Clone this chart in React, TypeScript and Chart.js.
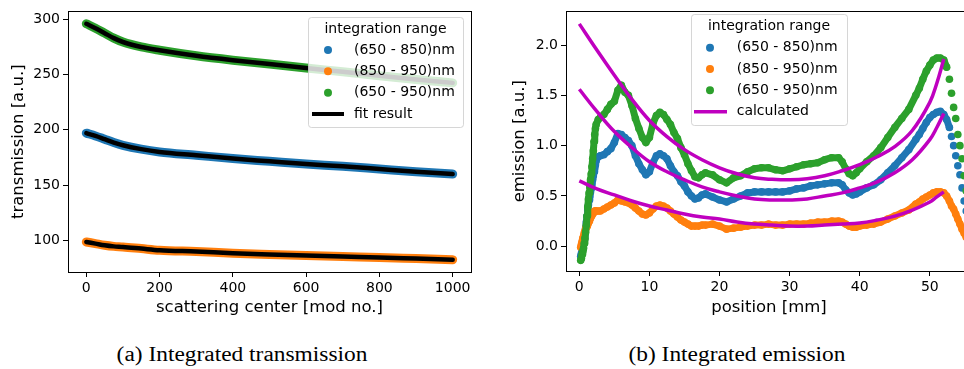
import React, { useEffect, useRef } from 'react';
import { Chart, registerables } from 'chart.js';

Chart.register(...registerables);

// ---------- (a) Integrated transmission ----------
const scatterCenter = [0, 25, 50, 75, 100, 150, 200, 300, 400, 500, 600, 700, 800, 900, 1000];
const trans650_850 = [197, 194.5, 191.5, 188.5, 186, 182.5, 180, 177, 174, 171.5, 169, 167, 164.5, 162, 160];
const trans850_950 = [98.5, 97, 95.5, 94.5, 94, 92.5, 91, 89.8, 88.3, 87.2, 86.2, 85.3, 84.5, 83.5, 82.5];
const trans650_950 = [296, 292, 287.5, 283, 279.5, 275, 272, 267, 263, 259.5, 256, 252.5, 249, 245.5, 242.5];
const fit650_850 = [197, 194.5, 191.5, 188.5, 186, 182.5, 180, 177, 174, 171.5, 169, 167, 164.5, 162, 160];
const fit850_950 = [98.5, 97, 95.5, 94.5, 94, 92.5, 91, 89.8, 88.3, 87.2, 86.2, 85.3, 84.5, 83.5, 82.5];
const fit650_950 = [296, 292, 287.5, 283, 279.5, 275, 272, 267, 263, 259.5, 256, 252.5, 249, 245.5, 242.5];
const transYTicks = [100, 150, 200, 250, 300];
const transXTicks = [0, 200, 400, 600, 800, 1000];

// ---------- (b) Integrated emission ----------
const position = [
  0.2, 0.3, 0.4, 0.5, 0.6, 0.7, 0.8, 0.9, 1.0, 1.1,
  1.2, 1.3, 1.4, 1.5, 1.6, 1.7, 1.8, 1.9, 2.0, 2.1,
  2.2, 2.3, 2.4,
  2.7, 3.0, 3.5, 4.0, 4.5, 5.0, 5.5, 6.0, 6.5, 7.0,
  7.5, 8.0, 8.5, 9.0, 9.5, 10.0, 10.5, 11.0, 11.5, 12.0,
  12.5, 13.0, 13.5, 14.0, 14.5, 15.0, 15.5, 16.0, 16.5, 17.0,
  17.5, 18, 19, 20, 21, 22, 23, 24, 25, 26,
  27, 28, 29, 30, 31, 32, 33, 34, 35, 36,
  37, 37.5, 38, 38.5, 39, 39.5, 40, 41, 42, 43,
  44, 45, 46, 47, 48, 48.5, 49, 49.5, 50, 50.5,
  51, 51.5, 52, 52.4, 52.8, 53.1, 53.4, 53.7, 54.0, 54.3,
  54.6, 54.9, 55.2,
];
const em650_850 = [
  -0.10, -0.07, -0.04, -0.01, 0.02, 0.07, 0.12, 0.18, 0.24, 0.30,
  0.36, 0.41, 0.46, 0.50, 0.54, 0.58, 0.62, 0.66, 0.70, 0.74,
  0.78, 0.81, 0.85,
  0.89, 0.90, 0.91, 0.94, 0.97, 1.03, 1.12, 1.11, 1.08, 1.05,
  1.00, 0.90, 0.82, 0.76, 0.71, 0.74, 0.83, 0.90, 0.92, 0.90,
  0.87, 0.80, 0.74, 0.70, 0.64, 0.60, 0.54, 0.50, 0.47, 0.48,
  0.51, 0.52, 0.49, 0.46, 0.44, 0.47, 0.50, 0.53, 0.54, 0.54,
  0.54, 0.54, 0.54, 0.55, 0.57, 0.58, 0.60, 0.61, 0.62, 0.63,
  0.63, 0.61, 0.56, 0.53, 0.51, 0.52, 0.54, 0.58, 0.61, 0.66,
  0.73, 0.80, 0.88, 0.96, 1.06, 1.11, 1.17, 1.23, 1.28, 1.31,
  1.33, 1.34, 1.31, 1.26, 1.18, 1.09, 1.00, 0.90, 0.80, 0.71,
  0.58, 0.45, 0.35,
];
const em850_950 = [
  -0.01, 0.02, 0.05, 0.08, 0.10, 0.13, 0.15, 0.17, 0.19, 0.20,
  0.22, 0.23, 0.25, 0.27, 0.28, 0.30, 0.31, 0.32, 0.33, 0.34,
  0.35, 0.35, 0.35,
  0.35, 0.35, 0.37, 0.39, 0.41, 0.43, 0.46, 0.45, 0.44, 0.43,
  0.41, 0.38, 0.35, 0.32, 0.31, 0.33, 0.37, 0.40, 0.41, 0.40,
  0.38, 0.35, 0.32, 0.29, 0.26, 0.24, 0.22, 0.20, 0.20, 0.20,
  0.21, 0.21, 0.22, 0.20, 0.17, 0.18, 0.19, 0.20, 0.21, 0.21,
  0.22, 0.21, 0.21, 0.22, 0.22, 0.22, 0.23, 0.24, 0.24, 0.25,
  0.25, 0.24, 0.22, 0.20, 0.19, 0.19, 0.20, 0.21, 0.22, 0.24,
  0.27, 0.30, 0.33, 0.36, 0.42, 0.44, 0.47, 0.49, 0.51, 0.53,
  0.54, 0.54, 0.53, 0.50, 0.45, 0.40, 0.37, 0.32, 0.27, 0.22,
  0.17, 0.13, 0.09,
];
const em650_950 = [
  -0.14, -0.12, -0.08, -0.05, -0.02, 0.03, 0.08, 0.14, 0.21, 0.30,
  0.39, 0.47, 0.53, 0.59, 0.66, 0.72, 0.79, 0.87, 0.95, 1.04,
  1.11, 1.17, 1.21,
  1.26, 1.28, 1.31, 1.36, 1.41, 1.44, 1.55, 1.60, 1.53, 1.50,
  1.40, 1.27, 1.17, 1.08, 1.03, 1.08, 1.22, 1.30, 1.33, 1.31,
  1.26, 1.21, 1.13, 1.07, 0.98, 0.91, 0.82, 0.75, 0.69, 0.68,
  0.71, 0.73, 0.71, 0.66, 0.63, 0.68, 0.70, 0.74, 0.77, 0.78,
  0.78, 0.76, 0.75, 0.77, 0.79, 0.81, 0.82, 0.83, 0.86, 0.88,
  0.88, 0.84, 0.77, 0.72, 0.70, 0.73, 0.77, 0.84, 0.90, 0.98,
  1.08, 1.18, 1.27, 1.36, 1.50, 1.57, 1.66, 1.74, 1.80, 1.85,
  1.87, 1.87, 1.85, 1.78, 1.66, 1.52, 1.38, 1.27, 1.11, 1.00,
  0.87, 0.70, 0.55,
];
const calcPos = [0, 2.5, 5, 7.5, 10, 12.5, 15, 17.5, 20, 22.5, 25, 27.5, 30, 32.5, 35, 37.5, 40, 42.5, 45, 47.5, 50, 51, 52];
const calc650_950 = [2.21, 1.95, 1.70, 1.46, 1.25, 1.09, 0.96, 0.86, 0.78, 0.72, 0.68, 0.665, 0.66, 0.67, 0.70, 0.75, 0.81, 0.89, 0.99, 1.15, 1.43, 1.62, 1.86];
const calc650_850 = [1.56, 1.34, 1.14, 0.98, 0.84, 0.74, 0.66, 0.59, 0.54, 0.50, 0.47, 0.46, 0.46, 0.47, 0.50, 0.53, 0.58, 0.64, 0.73, 0.86, 1.06, 1.18, 1.32];
const calc850_950 = [0.65, 0.57, 0.51, 0.45, 0.40, 0.36, 0.32, 0.29, 0.27, 0.24, 0.22, 0.21, 0.20, 0.20, 0.21, 0.22, 0.23, 0.26, 0.30, 0.36, 0.44, 0.49, 0.54];
const emYTicks = [0, 0.5, 1.0, 1.5, 2.0];
const emXTicks = [0, 10, 20, 30, 40, 50];

const legendTitle = 'integration range';
const rangeLabels = ['(650 - 850)nm', '(850 - 950)nm', '(650 - 950)nm'];

// ---------- styles ----------
const C_BLUE = '#1f77b4';
const C_ORANGE = '#ff7f0e';
const C_GREEN = '#2ca02c';
const C_MAG = '#bf00bf';
const FONT = '"DejaVu Sans", sans-serif';
const tickFont = { family: FONT, size: 14 };
const titleFont = { family: FONT, size: 16.5 };
const H = 325;

const xy = (xs: number[], ys: number[]) => xs.map((x, i) => ({ x, y: ys[i] }));

function scaleOpts(o: any) {
  return {
    type: 'linear',
    min: o.min,
    max: o.max,
    afterBuildTicks: (s: any) => {
      s.ticks = o.ticks.map((v: number) => ({ value: v }));
    },
    afterFit: (s: any) => {
      if (o.horizontal) s.height = o.size;
      else s.width = o.size;
    },
    ticks: {
      callback: (v: any) => o.fmt(Number(v)),
      font: tickFont,
      color: '#000',
      padding: 3,
      autoSkip: false,
      maxRotation: 0,
      minRotation: 0,
    },
    grid: { display: true, drawOnChartArea: false, drawTicks: true, tickLength: 5, tickWidth: 1, tickColor: '#000' },
    border: { display: false },
    title: { display: true, text: o.title, font: titleFont, color: '#000', padding: o.titlePadding },
  };
}

const framePlugin = {
  id: 'frame',
  afterDatasetsDraw(chart: any) {
    const { ctx, chartArea: a } = chart;
    ctx.save();
    ctx.strokeStyle = '#000';
    ctx.lineWidth = 1;
    const l = Math.round(a.left) + 0.5;
    const t = Math.round(a.top) + 0.5;
    const r = Math.round(a.right) + 0.5;
    const b = Math.round(a.bottom) + 0.5;
    ctx.strokeRect(l, t, r - l, b - t);
    ctx.restore();
  },
};

function legendPlugin(id: string, cfg: any) {
  return {
    id,
    afterDatasetsDraw(chart: any) {
      const ctx = chart.ctx;
      const [x0, y0, x1, y1] = cfg.box;
      ctx.save();
      ctx.beginPath();
      if (ctx.roundRect) ctx.roundRect(x0 + 0.5, y0 + 0.5, x1 - x0, y1 - y0, 3);
      else ctx.rect(x0 + 0.5, y0 + 0.5, x1 - x0, y1 - y0);
      ctx.fillStyle = 'rgba(255,255,255,0.8)';
      ctx.fill();
      ctx.strokeStyle = 'rgba(204,204,204,0.8)';
      ctx.lineWidth = 1;
      ctx.stroke();
      ctx.font = `14px ${FONT}`;
      ctx.textBaseline = 'middle';
      ctx.textAlign = 'center';
      ctx.fillStyle = '#000';
      ctx.fillText(legendTitle, (x0 + x1) / 2, cfg.titleY);
      ctx.textAlign = 'left';
      cfg.rows.forEach((r: any, i: number) => {
        const y = cfg.rowY[i];
        if (r.kind === 'dot') {
          ctx.beginPath();
          ctx.arc(cfg.markerX, y, 4, 0, Math.PI * 2);
          ctx.fillStyle = r.color;
          ctx.fill();
        } else {
          ctx.beginPath();
          ctx.moveTo(cfg.lineX[0], y);
          ctx.lineTo(cfg.lineX[1], y);
          ctx.strokeStyle = r.color;
          ctx.lineWidth = r.width;
          ctx.stroke();
        }
        ctx.fillStyle = '#000';
        ctx.fillText(r.label, cfg.textX, y);
      });
      ctx.restore();
    },
  };
}

function leftConfig(): any {
  const band = (ys: number[], color: string) => ({
    data: xy(scatterCenter, ys),
    borderColor: color,
    borderWidth: 9,
    borderCapStyle: 'round',
    pointRadius: 0,
    cubicInterpolationMode: 'monotone',
    order: 5,
  });
  const fit = (ys: number[]) => ({
    data: xy(scatterCenter, ys),
    borderColor: '#000',
    borderWidth: 4.5,
    borderCapStyle: 'round',
    pointRadius: 0,
    cubicInterpolationMode: 'monotone',
    order: 1,
  });
  return {
    type: 'line',
    data: {
      datasets: [
        band(trans650_850, C_BLUE),
        band(trans850_950, C_ORANGE),
        band(trans650_950, C_GREEN),
        fit(fit650_850),
        fit(fit850_950),
        fit(fit650_950),
      ],
    },
    options: {
      responsive: false,
      animation: false,
      devicePixelRatio: 1,
      events: [],
      layout: { padding: { left: 0, top: 9, right: 19, bottom: 0 } },
      plugins: { legend: { display: false }, tooltip: { enabled: false } },
      scales: {
        x: scaleOpts({
          min: -50, max: 1050, ticks: transXTicks, fmt: (v: number) => String(v),
          title: 'scattering center [mod no.]', titlePadding: { top: 0, bottom: 7.6 }, size: H - 272, horizontal: true,
        }),
        y: scaleOpts({
          min: 71.3, max: 307.2, ticks: transYTicks, fmt: (v: number) => String(v),
          title: 'transmission [a.u.]', titlePadding: { top: 8.4, bottom: 0 }, size: 68, horizontal: false,
        }),
      },
    },
    plugins: [
      framePlugin,
      legendPlugin('legA', {
        box: [308, 17, 463, 127],
        titleY: 29,
        markerX: 328,
        lineX: [312, 344],
        textX: 354,
        rowY: [50, 71.3, 92.7, 114],
        rows: [
          { label: rangeLabels[0], kind: 'dot', color: C_BLUE },
          { label: rangeLabels[1], kind: 'dot', color: C_ORANGE },
          { label: rangeLabels[2], kind: 'dot', color: C_GREEN },
          { label: 'fit result', kind: 'line', color: '#000', width: 4 },
        ],
      }),
    ],
  };
}

function rightConfig(): any {
  const dots = (ys: number[], color: string, order: number) => ({
    data: xy(position, ys),
    borderColor: color,
    backgroundColor: color,
    pointBackgroundColor: color,
    pointBorderWidth: 0,
    pointRadius: 3.8,
    borderWidth: 7,
    borderJoinStyle: 'round',
    borderCapStyle: 'round',
    tension: 0,
    order,
    segment: {
      borderColor: (c: any) =>
        position[c.p0DataIndex] >= 52.2 && Math.hypot(c.p1.x - c.p0.x, c.p1.y - c.p0.y) > 9 ? 'rgba(0,0,0,0)' : color,
    },
  });
  const calc = (ys: number[]) => ({
    data: xy(calcPos, ys),
    borderColor: C_MAG,
    borderWidth: 3.5,
    pointRadius: 0,
    tension: 0.4,
    cubicInterpolationMode: 'default',
    order: 1,
  });
  return {
    type: 'line',
    data: {
      datasets: [
        dots(em650_850, C_BLUE, 8),
        dots(em850_950, C_ORANGE, 7),
        dots(em650_950, C_GREEN, 6),
        calc(calc650_950),
        calc(calc650_850),
        calc(calc850_950),
      ],
    },
    options: {
      responsive: false,
      animation: false,
      devicePixelRatio: 1,
      events: [],
      layout: { padding: { left: 0, top: 6, right: 8, bottom: 0 } },
      plugins: { legend: { display: false }, tooltip: { enabled: false } },
      scales: {
        x: scaleOpts({
          min: -1.9, max: 56.02, ticks: emXTicks, fmt: (v: number) => String(v),
          title: 'position [mm]', titlePadding: { top: 0, bottom: 7.6 }, size: H - 271, horizontal: true,
        }),
        y: scaleOpts({
          min: -0.246, max: 2.334, ticks: emYTicks, fmt: (v: number) => v.toFixed(1),
          title: 'emission [a.u.]', titlePadding: { top: 20.1, bottom: 0 }, size: 76, horizontal: false,
        }),
      },
    },
    plugins: [
      framePlugin,
      legendPlugin('legB', {
        box: [201, 14, 357, 125],
        titleY: 26,
        markerX: 220,
        lineX: [204, 237],
        textX: 246.7,
        rowY: [47.7, 69, 90.3, 111.7],
        rows: [
          { label: rangeLabels[0], kind: 'dot', color: C_BLUE },
          { label: rangeLabels[1], kind: 'dot', color: C_ORANGE },
          { label: rangeLabels[2], kind: 'dot', color: C_GREEN },
          { label: 'calculated', kind: 'line', color: C_MAG, width: 3.5 },
        ],
      }),
    ],
  };
}

function Caption({ text, cx }: { text: string; cx: number }) {
  return (
    <div
      style={{
        position: 'absolute',
        left: cx,
        top: 344,
        transform: 'translateX(-50%) scaleX(1.17)',
        fontFamily: '"Liberation Serif", "Times New Roman", serif',
        fontSize: 20,
        lineHeight: '20px',
        whiteSpace: 'nowrap',
        color: '#000',
      }}
    >
      {text}
    </div>
  );
}

export default function App() {
  const leftRef = useRef<HTMLCanvasElement>(null);
  const rightRef = useRef<HTMLCanvasElement>(null);
  useEffect(() => {
    const a = new Chart(leftRef.current as HTMLCanvasElement, leftConfig());
    const b = new Chart(rightRef.current as HTMLCanvasElement, rightConfig());
    return () => {
      a.destroy();
      b.destroy();
    };
  }, []);
  return (
    <div
      style={{
        position: 'fixed',
        left: 0,
        top: 0,
        width: 964,
        height: 369,
        overflow: 'hidden',
        background: '#fff',
      }}
    >
      <canvas ref={leftRef} width={490} height={H} style={{ position: 'absolute', left: 0, top: 0, width: 490, height: H }} />
      <canvas ref={rightRef} width={490} height={H} style={{ position: 'absolute', left: 490, top: 0, width: 490, height: H }} />
      <Caption text="(a) Integrated transmission" cx={241.5} />
      <Caption text="(b) Integrated emission" cx={737} />
    </div>
  );
}
